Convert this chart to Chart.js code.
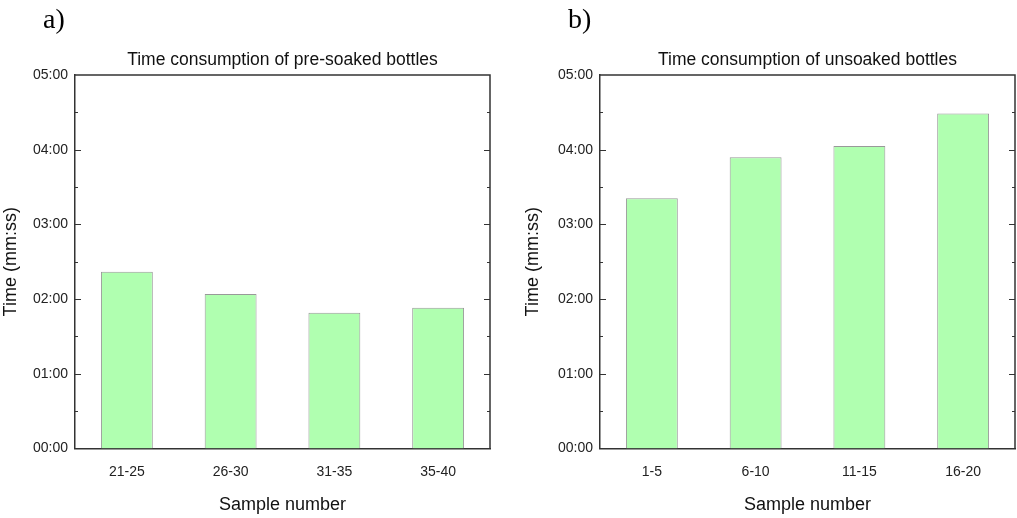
<!DOCTYPE html>
<html>
<head>
<meta charset="utf-8">
<script src="https://cdn.jsdelivr.net/npm/chart.js@4"></script>
<style>
  body { margin: 0; background: #fff; }
  canvas { position: absolute; top: 0; }
</style>
</head>
<body>
<canvas id="soaked" width="508" height="518" style="left:0"></canvas>
<canvas id="unsoaked" width="509" height="518" style="left:508px"></canvas>
<script>
// data (seconds)
const soakedLabels = ["21-25", "26-30", "31-35", "35-40"];
const soakedSeconds = [142, 124, 109, 113];
const unsoakedLabels = ["1-5", "6-10", "11-15", "16-20"];
const unsoakedSeconds = [201, 234, 243, 269];
const timeTickLabels = ["00:00", "01:00", "02:00", "03:00", "04:00", "05:00"];

const FONT = "'Liberation Sans', Arial, sans-serif";

// box, inward ticks and panel letter
const framePlugin = {
  id: "frame",
  afterDraw(chart, args, opts) {
    const ctx = chart.ctx;
    const a = chart.chartArea;
    const y = chart.scales.y;
    ctx.save();
    ctx.strokeStyle = "#333";
    ctx.lineWidth = 1.5;
    ctx.beginPath();
    ctx.moveTo(a.left, a.top);
    ctx.lineTo(a.right, a.top);
    ctx.lineTo(a.right, a.bottom);
    ctx.stroke();
    ctx.lineWidth = 1;
    ctx.beginPath();
    for (let s = 30; s < 300; s += 30) {
      const py = Math.round(y.getPixelForValue(s)) + 0.5;
      const len = s % 60 === 0 ? 6 : 3;
      ctx.moveTo(a.left, py);
      ctx.lineTo(a.left + len, py);
      ctx.moveTo(a.right, py);
      ctx.lineTo(a.right - len, py);
    }
    ctx.stroke();
    ctx.fillStyle = "#000";
    ctx.font = "28px 'Liberation Serif', 'Times New Roman', serif";
    ctx.textBaseline = "middle";
    ctx.fillText(opts.letter, opts.letterX, 21);
    ctx.restore();
  },
};

function makeChart(id, labels, values, title, letter, opt) {
  return new Chart(document.getElementById(id), {
    type: "bar",
    data: {
      labels: labels,
      datasets: [
        {
          data: values,
          backgroundColor: "#b0ffb0",
          borderColor: "#999",
          borderWidth: 1,
          categoryPercentage: 1,
          barPercentage: 0.5,
        },
      ],
    },
    options: {
      responsive: false,
      animation: false,
      layout: { padding: { left: 0, right: opt.padRight, top: 0, bottom: 0 } },
      plugins: {
        legend: { display: false },
        tooltip: { enabled: false },
        title: {
          display: true,
          text: title,
          fullSize: false,
          color: "#111",
          font: { family: FONT, size: 17.5, weight: "normal" },
          padding: { top: 50, bottom: 4 },
        },
        frame: { letter: letter, letterX: opt.letterX },
      },
      scales: {
        x: {
          grid: { display: false, drawTicks: false },
          border: { color: "#333", width: 1.5 },
          ticks: { color: "#222", font: { family: FONT, size: 14 }, padding: 15 },
          title: {
            display: true,
            text: "Sample number",
            color: "#111",
            font: { family: FONT, size: 18 },
            padding: { top: 0, bottom: 2 },
          },
          afterFit(scale) { scale.height = 69.5; },
        },
        y: {
          min: 0,
          max: 300,
          grid: { display: false, drawTicks: false },
          border: { color: "#333", width: 1.5 },
          ticks: {
            stepSize: 60,
            color: "#222",
            padding: 7,
            font: { family: FONT, size: 14 },
            callback: (v) => timeTickLabels[v / 60],
          },
          title: {
            display: true,
            text: "Time (mm:ss)",
            color: "#111",
            font: { family: FONT, size: 18 },
            padding: { top: opt.titlePad, bottom: 0 },
          },
          afterFit(scale) { scale.width = opt.axisWidth; },
        },
      },
    },
    plugins: [framePlugin],
  });
}

var soakedChart = makeChart("soaked", soakedLabels, soakedSeconds,
  "Time consumption of pre-soaked bottles", "a)",
  { axisWidth: 75, padRight: 18, titlePad: 0, letterX: 43 });
var unsoakedChart = makeChart("unsoaked", unsoakedLabels, unsoakedSeconds,
  "Time consumption of unsoaked bottles", "b)",
  { axisWidth: 92, padRight: 2, titlePad: 14.7, letterX: 60 });
</script>
</body>
</html>
